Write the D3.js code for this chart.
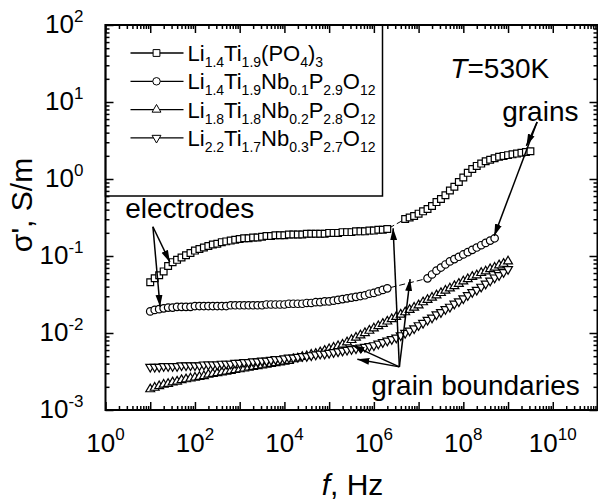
<!DOCTYPE html>
<html>
<head>
<meta charset="utf-8">
<script src="https://d3js.org/d3.v7.min.js"></script>
<style>
	body { margin: 0; background: #fff; }
	text { font-family: "Liberation Sans", Arial, sans-serif; fill: #000; }
</style>
</head>
<body>
<div id="my_dataviz"></div>
<script>
var margin = { top: 25, right: 0.5, bottom: 93, left: 105.5 },
	width = 598 - margin.left - margin.right,
	height = 503 - margin.top - margin.bottom;

// log10 of frequency (Hz), shared by all series
const logF = [1.0,1.1,1.2,1.3,1.4,1.5,1.6,1.7,1.8,1.9,
	2.0,2.1,2.2,2.3,2.4,2.5,2.6,2.7,2.8,2.9,
	3.0,3.1,3.2,3.3,3.4,3.5,3.6,3.7,3.8,3.9,
	4.0,4.1,4.2,4.3,4.4,4.5,4.6,4.7,4.8,4.9,
	5.0,5.1,5.2,5.3,5.4,5.5,5.6,5.7,5.8,5.9,
	6.0,6.1,6.2,6.3,6.4,6.5,6.6,6.7,6.8,6.9,
	7.0,7.1,7.2,7.3,7.4,7.5,7.6,7.7,7.8,7.9,
	8.0,8.1,8.2,8.3,8.4,8.5,8.6,8.7,8.8,8.9,
	9.0,9.1,9.2,9.3,9.4,9.5];

// log10 of sigma' (S/m); null = no measured point
const sigLi14Ti19 = [-1.34,-1.29,-1.25,-1.20,-1.13,-1.08,-1.05,-1.02,-0.99,-0.96,
	-0.93,-0.91,-0.89,-0.87,-0.85,-0.84,-0.82,-0.81,-0.80,-0.79,
	-0.78,-0.77,-0.77,-0.76,-0.76,-0.75,-0.74,-0.74,-0.73,-0.73,
	-0.73,-0.72,-0.72,-0.72,-0.72,-0.71,-0.71,-0.71,-0.71,-0.71,
	-0.70,-0.70,-0.70,-0.69,-0.69,-0.69,-0.68,-0.68,-0.68,-0.67,
	-0.67,-0.66,-0.66,-0.65,null,null,null,-0.52,-0.50,-0.48,
	-0.45,-0.42,-0.39,-0.35,-0.30,-0.26,-0.21,-0.15,-0.10,-0.04,
	0.02,0.08,0.13,0.17,0.20,0.23,0.25,0.27,0.29,0.30,
	0.31,0.32,0.33,0.34,0.35,0.36];
const sigNb01 = [-1.72,-1.70,-1.69,-1.68,-1.67,-1.67,-1.66,-1.66,-1.66,-1.66,
	-1.65,-1.65,-1.65,-1.65,-1.65,-1.65,-1.65,-1.65,-1.64,-1.64,
	-1.64,-1.64,-1.64,-1.64,-1.64,-1.64,-1.63,-1.63,-1.63,-1.63,
	-1.63,-1.62,-1.62,-1.62,-1.62,-1.61,-1.61,-1.60,-1.60,-1.59,
	-1.59,-1.58,-1.57,-1.56,-1.55,-1.54,-1.53,-1.52,-1.51,-1.49,
	-1.48,-1.46,-1.44,-1.42,null,null,null,null,null,null,
	null,null,-1.29,-1.24,-1.19,-1.15,-1.11,-1.07,-1.04,-1.01,
	-0.98,-0.95,-0.92,-0.89,-0.86,-0.83,-0.80,-0.77,null,null,
	null,null,null,null,null,null];
const sigNb02 = [-2.73,-2.71,-2.69,-2.67,-2.66,-2.64,-2.63,-2.61,-2.60,-2.59,
	-2.58,-2.57,-2.56,-2.54,-2.53,-2.52,-2.51,-2.50,-2.49,-2.48,
	-2.47,-2.46,-2.45,-2.44,-2.43,-2.42,-2.41,-2.40,-2.39,-2.38,
	-2.37,-2.36,-2.34,-2.33,-2.31,-2.30,-2.28,-2.27,-2.25,-2.23,
	-2.21,-2.19,-2.17,-2.15,-2.12,-2.09,-2.06,-2.03,-2.00,-1.97,
	-1.94,-1.91,-1.88,-1.85,-1.82,-1.79,-1.76,-1.73,-1.70,-1.67,
	-1.64,-1.60,-1.57,-1.54,-1.51,-1.48,-1.45,-1.42,-1.39,-1.36,
	-1.33,-1.30,-1.27,-1.25,-1.22,-1.20,-1.17,-1.15,-1.12,-1.10,
	-1.07,null,null,null,null,null];
const sigNb03 = [-2.44,-2.44,-2.44,-2.43,-2.43,-2.43,-2.43,-2.42,-2.42,-2.42,
	-2.42,-2.42,-2.41,-2.41,-2.41,-2.41,-2.40,-2.40,-2.40,-2.39,
	-2.39,-2.38,-2.38,-2.37,-2.37,-2.36,-2.36,-2.35,-2.34,-2.34,
	-2.33,-2.32,-2.32,-2.31,-2.30,-2.30,-2.29,-2.28,-2.27,-2.27,
	-2.26,-2.25,-2.24,-2.23,-2.22,-2.21,-2.20,-2.19,-2.18,-2.17,
	-2.16,-2.14,-2.12,-2.10,-2.08,-2.06,-2.03,-2.00,-1.97,-1.94,
	-1.90,-1.87,-1.83,-1.80,-1.76,-1.73,-1.69,-1.66,-1.62,-1.59,
	-1.55,-1.51,-1.47,-1.44,-1.40,-1.36,-1.32,-1.28,-1.25,-1.21,
	-1.17,null,null,null,null,null];

const legendLabels = [
	["Li", "1.4", "Ti", "1.9", "(PO", "4", ")", "3"],
	["Li", "1.4", "Ti", "1.9", "Nb", "0.1", "P", "2.9", "O", "12"],
	["Li", "1.8", "Ti", "1.8", "Nb", "0.2", "P", "2.8", "O", "12"],
	["Li", "2.2", "Ti", "1.7", "Nb", "0.3", "P", "2.7", "O", "12"]
];
const xTickExp = [0, 2, 4, 6, 8, 10];
const yTickExp = [-3, -2, -1, 0, 1, 2];

var series = [
	{ values: sigLi14Ti19, symbol: d3.symbolSquare, size: 46, rot: 0 },
	{ values: sigNb01, symbol: d3.symbolCircle, size: 44, rot: 0 },
	{ values: sigNb02, symbol: d3.symbolTriangle, size: 34, rot: 0 },
	{ values: sigNb03, symbol: d3.symbolTriangle, size: 34, rot: 180 }
];

var x = d3.scaleLog().domain([1, 1e11]).range([0, width]);
var y = d3.scaleLog().domain([1e-3, 1e2]).range([height, 0]);

var svg = d3
	.select("#my_dataviz")
	.append("svg")
	.attr("width", width + margin.left + margin.right)
	.attr("height", height + margin.top + margin.bottom)
	.append("g")
	.attr("transform", "translate(" + margin.left + "," + margin.top + ")");

svg.append("defs")
	.append("marker")
	.attr("id", "head")
	.attr("viewBox", "0 -4 12 8")
	.attr("refX", 12)
	.attr("refY", 0)
	.attr("markerUnits", "userSpaceOnUse")
	.attr("markerWidth", 12)
	.attr("markerHeight", 8)
	.attr("orient", "auto")
	.append("path")
	.attr("d", "M0,-3.5L12,0L0,3.5Z")
	.attr("fill", "#000");

// ticks on all four sides, pointing inward
var majorX = [], minorX = [], majorY = [], minorY = [];
for (var e = 0; e <= 11; e++) {
	majorX.push(Math.pow(10, e));
	if (e < 11) for (var k = 2; k < 10; k++) minorX.push(k * Math.pow(10, e));
}
for (var e = -3; e <= 2; e++) {
	majorY.push(Math.pow(10, e));
	if (e < 2) for (var k = 2; k < 10; k++) minorY.push(k * Math.pow(10, e));
}

function styleAxis(g) {
	g.select(".domain").remove();
	g.selectAll("line").attr("stroke", "#000").attr("stroke-width", 1.5);
	g.selectAll("text").remove();
}

[[majorX, 8], [minorX, 4]].forEach(function (t) {
	svg.append("g").attr("transform", "translate(0," + height + ")")
		.call(d3.axisBottom(x).tickValues(t[0]).tickSize(-t[1])).call(styleAxis);
	svg.append("g")
		.call(d3.axisTop(x).tickValues(t[0]).tickSize(-t[1])).call(styleAxis);
});
[[majorY, 8], [minorY, 4]].forEach(function (t) {
	svg.append("g")
		.call(d3.axisLeft(y).tickValues(t[0]).tickSize(-t[1])).call(styleAxis);
	svg.append("g").attr("transform", "translate(" + width + ",0)")
		.call(d3.axisRight(y).tickValues(t[0]).tickSize(-t[1])).call(styleAxis);
});

// tick labels 10^n
xTickExp.forEach(function (p) {
	var t = svg.append("text")
		.attr("x", x(Math.pow(10, p)))
		.attr("y", height + 42)
		.attr("text-anchor", "middle")
		.style("font-size", "26px");
	t.append("tspan").text("10");
	t.append("tspan").attr("dy", -12).style("font-size", "17px").text(p);
});
yTickExp.forEach(function (p) {
	var t = svg.append("text")
		.attr("x", -22)
		.attr("y", y(Math.pow(10, p)) + 8)
		.attr("text-anchor", "end")
		.style("font-size", "26px");
	t.append("tspan").text("10");
	t.append("tspan").attr("dy", -11).style("font-size", "17px").text(p);
});

// frame
svg.append("rect")
	.attr("width", width)
	.attr("height", height)
	.attr("fill", "none")
	.attr("stroke", "#000")
	.attr("stroke-width", 2);

// axis titles
var xt = svg.append("text")
	.attr("x", 247)
	.attr("y", height + 85)
	.attr("text-anchor", "middle")
	.style("font-size", "30px");
xt.append("tspan").style("font-style", "italic").text("f");
xt.append("tspan").text(", Hz");

svg.append("text")
	.attr("transform", "rotate(-90)")
	.attr("x", -180)
	.attr("y", -74)
	.attr("text-anchor", "middle")
	.style("font-size", "30px")
	.text("\u03c3', S/m");

// series
var line = d3.line()
	.x(function (d) { return x(Math.pow(10, d[0])); })
	.y(function (d) { return y(Math.pow(10, d[1])); });

series.forEach(function (s) {
	var pts = [];
	s.values.forEach(function (v, i) {
		if (v !== null) pts.push([logF[i], v]);
	});
	svg.append("path")
		.datum(pts)
		.attr("d", line)
		.attr("fill", "none")
		.attr("stroke", "#000")
		.attr("stroke-width", 1)
		.attr("stroke-dasharray", "6,3");
	svg.append("g")
		.selectAll("path")
		.data(pts)
		.enter()
		.append("path")
		.attr("d", d3.symbol().type(s.symbol).size(s.size))
		.attr("transform", function (d) {
			return "translate(" + x(Math.pow(10, d[0])) + "," + y(Math.pow(10, d[1])) + ") rotate(" + s.rot + ")";
		})
		.attr("fill", "#fff")
		.attr("stroke", "#000")
		.attr("stroke-width", 1.2);
});

// legend
svg.append("rect")
	.attr("width", 277)
	.attr("height", 171)
	.attr("fill", "none")
	.attr("stroke", "#000")
	.attr("stroke-width", 1.5);

legendLabels.forEach(function (parts, i) {
	var cy = 28 + i * 28.3;
	svg.append("line")
		.attr("x1", 25).attr("x2", 78)
		.attr("y1", cy).attr("y2", cy)
		.attr("stroke", "#000").attr("stroke-width", 1.3);
	svg.append("path")
		.attr("d", d3.symbol().type(series[i].symbol).size(series[i].size))
		.attr("transform", "translate(51," + cy + ") rotate(" + series[i].rot + ")")
		.attr("fill", "#fff")
		.attr("stroke", "#000");
	var t = svg.append("text")
		.attr("x", 82)
		.attr("y", cy + 8)
		.style("font-size", "22px");
	parts.forEach(function (p, j) {
		if (j % 2 === 0) {
			t.append("tspan").attr("dy", j === 0 ? 0 : -6).text(p);
		} else {
			t.append("tspan").attr("dy", 6).style("font-size", "14px").text(p);
		}
	});
});

// annotations, positions in log10 data units
const labels = [
	{ text: "electrodes", lf: 0.44, ls: -0.51 },
	{ text: "grains", lf: 8.87, ls: 0.75 },
	{ text: "grain boundaries", lf: 5.94, ls: -2.80 }
];
const arrows = [
	[1.06, -0.62, 1.44, -1.08],
	[1.06, -0.62, 1.22, -1.66],
	[9.65, 0.74, 9.41, 0.43],
	[9.65, 0.74, 8.69, -0.74],
	[6.57, -2.44, 6.43, -0.64],
	[6.57, -2.44, 6.81, -1.30],
	[6.57, -2.44, 5.52, -2.16],
	[6.57, -2.44, 5.63, -2.34]
];

labels.forEach(function (l) {
	svg.append("text")
		.attr("x", x(Math.pow(10, l.lf)))
		.attr("y", y(Math.pow(10, l.ls)))
		.style("font-size", "28px")
		.text(l.text);
});

arrows.forEach(function (a) {
	svg.append("line")
		.attr("x1", x(Math.pow(10, a[0])))
		.attr("y1", y(Math.pow(10, a[1])))
		.attr("x2", x(Math.pow(10, a[2])))
		.attr("y2", y(Math.pow(10, a[3])))
		.attr("stroke", "#000")
		.attr("stroke-width", 1.5)
		.attr("marker-end", "url(#head)");
});

var tt = svg.append("text")
	.attr("x", x(Math.pow(10, 7.71)))
	.attr("y", y(Math.pow(10, 1.31)))
	.style("font-size", "28px");
tt.append("tspan").style("font-style", "italic").text("T");
tt.append("tspan").text("=530K");
</script>
</body>
</html>
